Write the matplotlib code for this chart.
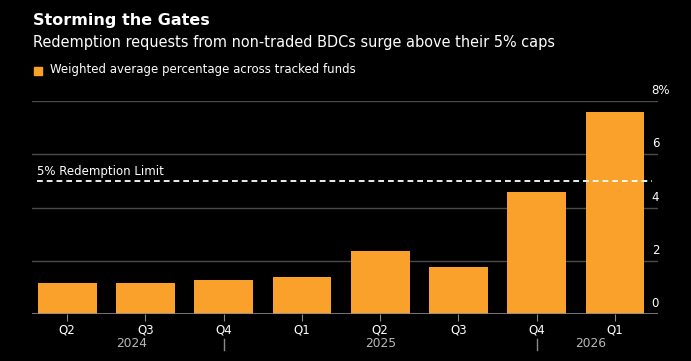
import matplotlib.pyplot as plt
import numpy as np

quarters = ['Q2', 'Q3', 'Q4', 'Q1', 'Q2', 'Q3', 'Q4', 'Q1']
redemptions = [1.17, 1.15, 1.28, 1.38, 2.37, 1.77, 4.6, 7.6]
years = ['2024', '2025', '2026']
year_pos = [0.82, 4.0, 6.69]
year_breaks = [2, 6]
y_ticks = [0, 2, 4, 6, 8]
limit = 5

orange = '#f9a12b'
bg = 'black'

fig = plt.figure(figsize=(6.91, 3.61), dpi=100, facecolor=bg)
ax = fig.add_axes([32 / 691, 1 - 314 / 361, 626 / 691, 213 / 361])
ax.set_facecolor(bg)

x = np.arange(len(quarters))
for y in y_ticks[1:]:
    ax.axhline(y, color='#4a4a4a', lw=1, zorder=0)
ax.bar(x, redemptions, width=0.75, color=orange, zorder=2)
ax.axhline(0, color='#8a8a8a', lw=1.2, zorder=3)

# dashed cap line
ax.plot([-0.39, 7.47], [limit, limit], color='white', lw=1.3,
        dashes=(3.2, 2.2), zorder=4)
ax.text(-0.39, limit + 0.12, '5% Redemption Limit', color='white',
        fontsize=8.5, va='bottom', ha='left')

ax.set_xlim(-0.45, 7.55)
ax.set_ylim(0, 8)
for s in ax.spines.values():
    s.set_visible(False)
ax.set_yticks([])
ax.set_xticks(x)
ax.set_xticklabels(quarters, color='white', fontsize=8.5)
ax.tick_params(axis='x', length=5, color='#8a8a8a', pad=2)

# y labels sit above their gridlines on the right
for y in y_ticks:
    lab = '8%' if y == 8 else str(y)
    ax.text(7.47, y + 0.15, lab, color='white', fontsize=8.5,
            ha='left', va='bottom')

for yr, p in zip(years, year_pos):
    ax.text(p, -1.12, yr, color='#b8b8b8', fontsize=8.8,
            ha='center', va='center')
for b in year_breaks:
    ax.plot([b, b], [-0.93, -1.35], color='#8a8a8a', lw=1, clip_on=False)

fig.text(33 / 691, 1 - 21 / 361, 'Storming the Gates', color='white',
         fontsize=11.5, fontweight='bold', va='center')
fig.text(33 / 691, 1 - 43 / 361,
         'Redemption requests from non-traded BDCs surge above their 5% caps',
         color='white', fontsize=10.45, va='center')
fig.patches.append(plt.Rectangle((34 / 691, 1 - 75 / 361), 8 / 691, 8 / 361,
                                 color=orange, transform=fig.transFigure,
                                 figure=fig))
fig.text(50 / 691, 1 - 70 / 361, 'Weighted average percentage across tracked funds',
         color='white', fontsize=8.5, va='center')

fig.savefig('out.png', dpi=100, facecolor=bg)
